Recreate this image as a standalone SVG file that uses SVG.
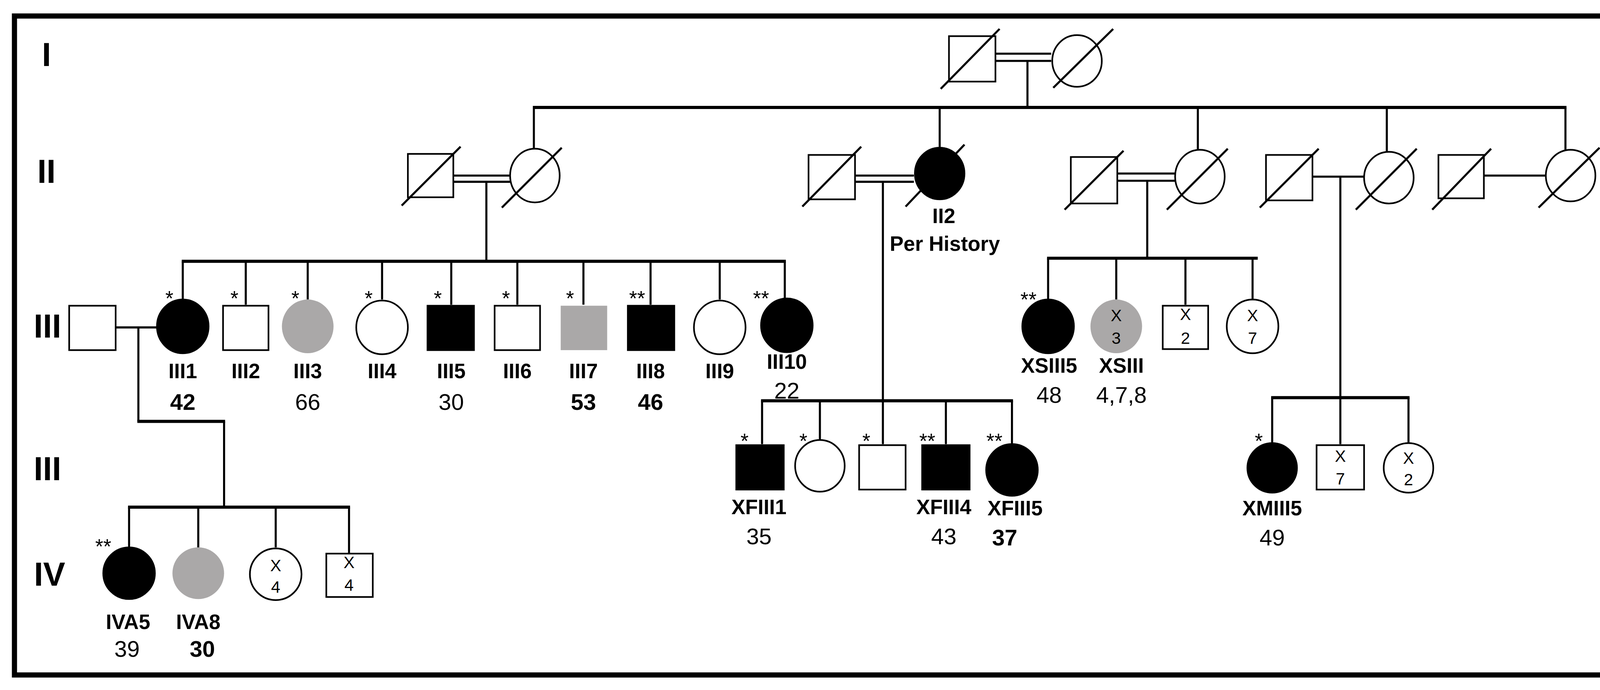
<svg xmlns="http://www.w3.org/2000/svg" width="4145" height="1766" viewBox="0 0 4145 1766">
<style>
.s{fill:#fff;stroke:#000;stroke-width:1.6}
.a{fill:#000;stroke:#000;stroke-width:1.6}
.g{fill:#aaa8a8;stroke:none}
.d{stroke:#000;stroke-width:2;fill:none}
.l{stroke:#000;stroke-width:2;fill:none}
.t{stroke:#000;stroke-width:3;fill:none}
text{font-family:"Liberation Sans Narrow","Liberation Sans",Arial,sans-serif;font-stretch:condensed;text-anchor:middle;fill:#000}
.lb{font-size:20px;font-weight:bold}
.nb{font-size:22px;font-weight:bold}
.nn{font-size:22px}
.gen{font-size:32px;font-weight:bold}
.st{font-size:20px}
.in{font-size:16px}
</style>
<rect width="4145" height="1766" fill="#fff"/>
<g transform="scale(2.6435)">
<rect x="14" y="15.5" width="1541" height="638" fill="none" stroke="#000" stroke-width="5"/>
<g id="gen-labels">
<text class="gen" x="45" y="64">I</text>
<text class="gen" x="45" y="177">II</text>
<text class="gen" x="46" y="327">III</text>
<text class="gen" x="46" y="465">III</text>
<text class="gen" x="48" y="567">IV</text>
</g>
<g id="connectors">
<line class="l" x1="964" y1="52" x2="1018" y2="52"/><line class="l" x1="964" y1="59" x2="1018" y2="59"/>
<line class="l" x1="995" y1="59" x2="995" y2="104"/>
<line class="t" x1="516" y1="104" x2="1517" y2="104"/>
<line class="l" x1="517" y1="104" x2="517" y2="145"/>
<line class="l" x1="910" y1="104" x2="910" y2="143"/>
<line class="l" x1="1160" y1="104" x2="1160" y2="145"/>
<line class="l" x1="1343" y1="104" x2="1343" y2="147"/>
<line class="l" x1="1516" y1="104" x2="1516" y2="145"/>
<line class="l" x1="439" y1="170" x2="494" y2="170"/><line class="l" x1="439" y1="176" x2="494" y2="176"/>
<line class="l" x1="471" y1="176" x2="471" y2="253"/>
<line class="t" x1="176" y1="253" x2="761" y2="253"/>
<line class="l" x1="177" y1="253" x2="177" y2="290"/>
<line class="l" x1="238" y1="253" x2="238" y2="295"/>
<line class="l" x1="298" y1="253" x2="298" y2="290"/>
<line class="l" x1="370" y1="253" x2="370" y2="290"/>
<line class="l" x1="437" y1="253" x2="437" y2="295"/>
<line class="l" x1="501" y1="253" x2="501" y2="295"/>
<line class="l" x1="565" y1="253" x2="565" y2="295"/>
<line class="l" x1="630" y1="253" x2="630" y2="295"/>
<line class="l" x1="697" y1="253" x2="697" y2="290"/>
<line class="l" x1="760" y1="253" x2="760" y2="290"/>
<line class="l" x1="112" y1="317" x2="152" y2="317"/>
<line class="l" x1="134" y1="317" x2="134" y2="408"/>
<line class="t" x1="133" y1="408" x2="218" y2="408"/>
<line class="l" x1="217" y1="408" x2="217" y2="491"/>
<line class="t" x1="124" y1="491" x2="339" y2="491"/>
<line class="l" x1="125" y1="491" x2="125" y2="530"/>
<line class="l" x1="192" y1="491" x2="192" y2="530"/>
<line class="l" x1="267" y1="491" x2="267" y2="530"/>
<line class="l" x1="338" y1="491" x2="338" y2="536"/>
<line class="l" x1="828" y1="170" x2="885" y2="170"/><line class="l" x1="828" y1="176" x2="885" y2="176"/>
<line class="l" x1="855" y1="176" x2="855" y2="388"/>
<line class="t" x1="737" y1="388" x2="981" y2="388"/>
<line class="l" x1="738" y1="388" x2="738" y2="430"/>
<line class="l" x1="794" y1="388" x2="794" y2="426"/>
<line class="l" x1="855" y1="388" x2="855" y2="430"/>
<line class="l" x1="916" y1="388" x2="916" y2="430"/>
<line class="l" x1="980" y1="388" x2="980" y2="430"/>
<line class="l" x1="1082" y1="168" x2="1138" y2="168"/><line class="l" x1="1082" y1="175" x2="1138" y2="175"/>
<line class="l" x1="1111" y1="175" x2="1111" y2="250"/>
<line class="t" x1="1014" y1="250" x2="1218" y2="250"/>
<line class="l" x1="1015" y1="250" x2="1015" y2="290"/>
<line class="l" x1="1081" y1="250" x2="1081" y2="290"/>
<line class="l" x1="1148" y1="250" x2="1148" y2="295"/>
<line class="l" x1="1213" y1="250" x2="1213" y2="290"/>
<line class="l" x1="1271" y1="171" x2="1321" y2="171"/>
<line class="l" x1="1298" y1="171" x2="1298" y2="430"/>
<line class="t" x1="1231" y1="385" x2="1365" y2="385"/>
<line class="l" x1="1232" y1="385" x2="1232" y2="429"/>
<line class="l" x1="1364" y1="385" x2="1364" y2="429"/>
<line class="l" x1="1437" y1="170" x2="1497" y2="170"/>
</g>
<g id="I1"><rect class="s" x="919" y="35" width="45" height="44"/><line class="d" x1="911" y1="86" x2="968" y2="28"/></g>
<g id="I2"><ellipse class="s" cx="1043" cy="59" rx="24" ry="25"/><line class="d" x1="1020" y1="85" x2="1078" y2="28"/></g>
<g id="IIA1"><rect class="s" x="395" y="149" width="44" height="42"/><line class="d" x1="389" y1="199" x2="446" y2="142"/></g>
<g id="IIA2"><ellipse class="s" cx="518" cy="170" rx="24" ry="26"/><line class="d" x1="486" y1="201" x2="544" y2="143"/></g>
<g id="IIB1"><rect class="s" x="783" y="150" width="45" height="43"/><line class="d" x1="777" y1="200" x2="834" y2="142"/></g>
<g id="II2"><ellipse class="a" cx="910" cy="168" rx="24" ry="25"/><line class="d" x1="877" y1="200" x2="934" y2="140"/><text class="lb" x="914" y="216">II2</text><text class="lb" x="915" y="243">Per History</text></g>
<g id="IIC1"><rect class="s" x="1037" y="152" width="45" height="45"/><line class="d" x1="1031" y1="203" x2="1088" y2="146"/></g>
<g id="IIC2"><ellipse class="s" cx="1162" cy="171" rx="24" ry="26"/><line class="d" x1="1130" y1="203" x2="1189" y2="144"/></g>
<g id="IID1"><rect class="s" x="1226" y="150" width="45" height="44"/><line class="d" x1="1220" y1="201" x2="1277" y2="144"/></g>
<g id="IID2"><ellipse class="s" cx="1345" cy="172" rx="24" ry="25"/><line class="d" x1="1313" y1="203" x2="1372" y2="144"/></g>
<g id="IIE1"><rect class="s" x="1393" y="150" width="44" height="42"/><line class="d" x1="1387" y1="203" x2="1444" y2="144"/></g>
<g id="IIE2"><ellipse class="s" cx="1521" cy="170" rx="24" ry="25"/><line class="d" x1="1490" y1="201" x2="1549" y2="143"/></g>
<g id="III-spouse"><rect class="s" x="67" y="296" width="45" height="43"/></g>
<g id="III1"><ellipse class="a" cx="177" cy="316" rx="25" ry="26"/><text class="st" x="164" y="296">*</text><text class="lb" x="177" y="366">III1</text><text class="nb" x="177" y="397">42</text></g>
<g id="III2"><rect class="s" x="216" y="296" width="44" height="43"/><text class="st" x="227" y="296">*</text><text class="lb" x="238" y="366">III2</text></g>
<g id="III3"><ellipse class="g" cx="298" cy="316" rx="25" ry="26"/><text class="st" x="286" y="296">*</text><text class="lb" x="298" y="366">III3</text><text class="nn" x="298" y="397">66</text></g>
<g id="III4"><ellipse class="s" cx="370" cy="317" rx="25" ry="26"/><text class="st" x="357" y="296">*</text><text class="lb" x="370" y="366">III4</text></g>
<g id="III5"><rect class="a" x="414" y="296" width="45" height="43"/><text class="st" x="424" y="296">*</text><text class="lb" x="437" y="366">III5</text><text class="nn" x="437" y="397">30</text></g>
<g id="III6"><rect class="s" x="479" y="296" width="44" height="43"/><text class="st" x="490" y="296">*</text><text class="lb" x="501" y="366">III6</text></g>
<g id="III7"><rect class="g" x="543" y="296" width="45" height="43"/><text class="st" x="552" y="296">*</text><text class="lb" x="565" y="366">III7</text><text class="nb" x="565" y="397">53</text></g>
<g id="III8"><rect class="a" x="608" y="296" width="45" height="43"/><text class="st" x="617" y="296">**</text><text class="lb" x="630" y="366">III8</text><text class="nb" x="630" y="397">46</text></g>
<g id="III9"><ellipse class="s" cx="697" cy="317" rx="25" ry="26"/><text class="lb" x="697" y="366">III9</text></g>
<g id="III10"><ellipse class="a" cx="762" cy="315" rx="25" ry="26"/><text class="st" x="737" y="296">**</text><text class="lb" x="762" y="357">III10</text><text class="nn" x="762" y="386">22</text></g>
<g id="IVA5"><ellipse class="a" cx="125" cy="555" rx="25" ry="25"/><text class="st" x="100" y="536">**</text><text class="lb" x="124" y="609">IVA5</text><text class="nn" x="123" y="636">39</text></g>
<g id="IVA8"><ellipse class="g" cx="192" cy="555" rx="25" ry="25"/><text class="lb" x="192" y="609">IVA8</text><text class="nb" x="196" y="636">30</text></g>
<g id="IV3"><ellipse class="s" cx="267" cy="556" rx="25" ry="25"/><text class="in" x="267" y="553">X</text><text class="in" x="267" y="574">4</text></g>
<g id="IV4"><rect class="s" x="316" y="536" width="45" height="42"/><text class="in" x="338" y="550">X</text><text class="in" x="338" y="572">4</text></g>
<g id="XFIII1"><rect class="a" x="713" y="431" width="46" height="43"/><text class="st" x="721" y="434">*</text><text class="lb" x="735" y="498">XFIII1</text><text class="nn" x="735" y="527">35</text></g>
<g id="XF2"><ellipse class="s" cx="794" cy="451" rx="24" ry="25"/><text class="st" x="778" y="434">*</text></g>
<g id="XF3"><rect class="s" x="832" y="431" width="45" height="43"/><text class="st" x="839" y="434">*</text></g>
<g id="XFIII4"><rect class="a" x="893" y="431" width="46" height="43"/><text class="st" x="898" y="434">**</text><text class="lb" x="914" y="498">XFIII4</text><text class="nn" x="914" y="527">43</text></g>
<g id="XFIII5"><ellipse class="a" cx="980" cy="455" rx="25" ry="25"/><text class="st" x="963" y="434">**</text><text class="lb" x="983" y="499">XFIII5</text><text class="nb" x="973" y="528">37</text></g>
<g id="XSIII5"><ellipse class="a" cx="1015" cy="316" rx="25" ry="26"/><text class="st" x="996" y="297">**</text><text class="lb" x="1016" y="361">XSIII5</text><text class="nn" x="1016" y="390">48</text></g>
<g id="XSIII"><ellipse class="g" cx="1081" cy="316" rx="25" ry="26"/><text class="in" x="1081" y="311">X</text><text class="in" x="1081" y="333">3</text><text class="lb" x="1086" y="361">XSIII</text><text class="nn" x="1086" y="390">4,7,8</text></g>
<g id="XS3"><rect class="s" x="1126" y="296" width="44" height="42"/><text class="in" x="1148" y="310">X</text><text class="in" x="1148" y="333">2</text></g>
<g id="XS4"><ellipse class="s" cx="1213" cy="316" rx="25" ry="26"/><text class="in" x="1213" y="311">X</text><text class="in" x="1213" y="333">7</text></g>
<g id="XMIII5"><ellipse class="a" cx="1232" cy="453" rx="24" ry="24"/><text class="st" x="1219" y="434">*</text><text class="lb" x="1232" y="499">XMIII5</text><text class="nn" x="1232" y="528">49</text></g>
<g id="XM2"><rect class="s" x="1275" y="431" width="46" height="43"/><text class="in" x="1298" y="447">X</text><text class="in" x="1298" y="469">7</text></g>
<g id="XM3"><ellipse class="s" cx="1364" cy="453" rx="24" ry="24"/><text class="in" x="1364" y="449">X</text><text class="in" x="1364" y="470">2</text></g>
</g>
</svg>
